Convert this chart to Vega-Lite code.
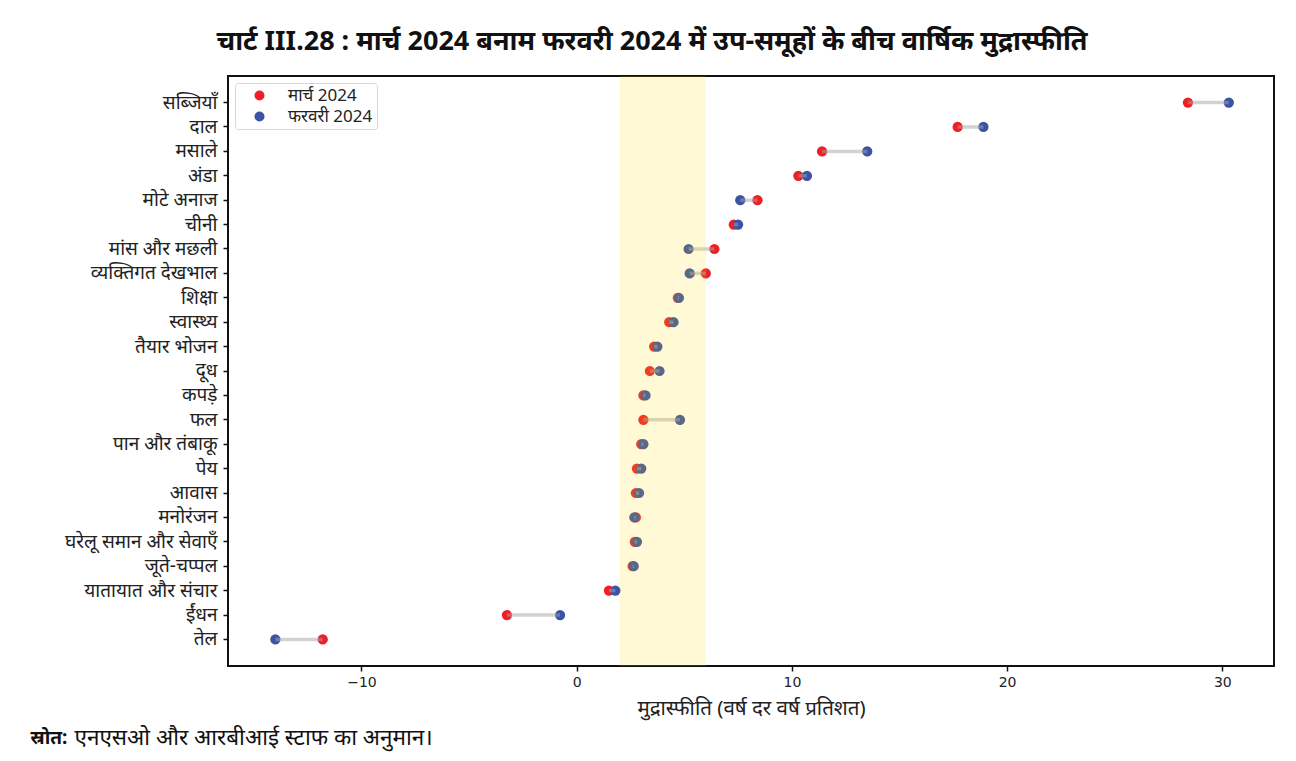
{
  "$schema": "https://vega.github.io/schema/vega-lite/v6.json",
  "autosize": {"type": "fit", "contains": "padding"},
  "width": 1296,
  "height": 761,
  "padding": {"left": 30, "right": 22, "top": 28, "bottom": 12},
  "background": "white",
  "title": {
    "text": "चार्ट III.28 : मार्च 2024 बनाम फरवरी 2024 में उप-समूहों के बीच वार्षिक मुद्रास्फीति",
    "anchor": "middle",
    "frame": "bounds",
    "font": "Noto Sans",
    "fontSize": 27,
    "fontWeight": "bold",
    "color": "#111",
    "offset": 20
  },
  "config": {
    "view": {"stroke": "#111", "strokeWidth": 2},
    "axis": {"grid": false, "domain": false, "tickColor": "#111", "tickWidth": 1.5, "tickSize": 5}
  },
  "data": {
    "values": [
      {"cat": "सब्जियाँ", "मार्च 2024": 28.4, "फरवरी 2024": 30.3},
      {"cat": "दाल", "मार्च 2024": 17.7, "फरवरी 2024": 18.9},
      {"cat": "मसाले", "मार्च 2024": 11.4, "फरवरी 2024": 13.5},
      {"cat": "अंडा", "मार्च 2024": 10.3, "फरवरी 2024": 10.7},
      {"cat": "मोटे अनाज", "मार्च 2024": 8.4, "फरवरी 2024": 7.6},
      {"cat": "चीनी", "मार्च 2024": 7.3, "फरवरी 2024": 7.5},
      {"cat": "मांस और मछली", "मार्च 2024": 6.4, "फरवरी 2024": 5.2},
      {"cat": "व्यक्तिगत देखभाल", "मार्च 2024": 6.0, "फरवरी 2024": 5.25},
      {"cat": "शिक्षा", "मार्च 2024": 4.7, "फरवरी 2024": 4.75},
      {"cat": "स्वास्थ्य", "मार्च 2024": 4.3, "फरवरी 2024": 4.5},
      {"cat": "तैयार भोजन", "मार्च 2024": 3.6, "फरवरी 2024": 3.75},
      {"cat": "दूध", "मार्च 2024": 3.4, "फरवरी 2024": 3.85},
      {"cat": "कपड़े", "मार्च 2024": 3.1, "फरवरी 2024": 3.2},
      {"cat": "फल", "मार्च 2024": 3.1, "फरवरी 2024": 4.8},
      {"cat": "पान और तंबाकू", "मार्च 2024": 3.0, "फरवरी 2024": 3.1},
      {"cat": "पेय", "मार्च 2024": 2.8, "फरवरी 2024": 3.0},
      {"cat": "आवास", "मार्च 2024": 2.75, "फरवरी 2024": 2.9},
      {"cat": "मनोरंजन", "मार्च 2024": 2.75, "फरवरी 2024": 2.68},
      {"cat": "घरेलू समान और सेवाएँ", "मार्च 2024": 2.7, "फरवरी 2024": 2.8},
      {"cat": "जूते-चप्पल", "मार्च 2024": 2.6, "फरवरी 2024": 2.65},
      {"cat": "यातायात और संचार", "मार्च 2024": 1.5, "फरवरी 2024": 1.8},
      {"cat": "ईंधन", "मार्च 2024": -3.24, "फरवरी 2024": -0.77},
      {"cat": "तेल", "मार्च 2024": -11.8, "फरवरी 2024": -14.0}
    ]
  },
  "resolve": {"axis": {"x": "independent"}},
  "layer": [
    {
      "transform": [{"fold": ["मार्च 2024", "फरवरी 2024"], "as": ["series", "value"]}],
      "mark": {"type": "circle", "size": 105, "opacity": 1},
      "encoding": {
        "x": {
          "field": "value", "type": "quantitative",
          "scale": {"domain": [-16.2, 32.4], "nice": false, "zero": false},
          "axis": {
            "orient": "bottom",
            "values": [-10, 0, 10, 20, 30],
            "title": "मुद्रास्फीति (वर्ष दर वर्ष प्रतिशत)",
            "titleFont": "Noto Sans", "titleFontSize": 20.5, "titleFontWeight": "normal", "titleColor": "#222",
            "titlePadding": 9,
            "labelFont": "DejaVu Sans", "labelFontSize": 14, "labelColor": "#222", "labelPadding": 4
          }
        },
        "y": {
          "field": "cat", "type": "nominal",
          "sort": ["सब्जियाँ", "दाल", "मसाले", "अंडा", "मोटे अनाज", "चीनी", "मांस और मछली", "व्यक्तिगत देखभाल", "शिक्षा", "स्वास्थ्य", "तैयार भोजन", "दूध", "कपड़े", "फल", "पान और तंबाकू", "पेय", "आवास", "मनोरंजन", "घरेलू समान और सेवाएँ", "जूते-चप्पल", "यातायात और संचार", "ईंधन", "तेल"],
          "scale": {"type": "band", "paddingInner": 0, "paddingOuter": 0.59},
          "axis": {"title": null, "labelFont": "Noto Sans", "labelFontSize": 19, "labelColor": "#222", "labelPadding": 6}
        },
        "color": {
          "field": "series", "type": "nominal",
          "scale": {"domain": ["मार्च 2024", "फरवरी 2024"], "range": ["#ee1f26", "#3a53a4"]},
          "legend": {
            "title": null, "orient": "top-left", "offset": 7,
            "fillColor": "white", "strokeColor": "#d6d6d6", "cornerRadius": 3, "padding": 4,
            "symbolType": "circle", "symbolSize": 100, "symbolStrokeWidth": 0, "symbolOffset": 12,
            "labelFont": "Noto Sans", "labelFontSize": 17, "labelColor": "#222", "labelOffset": 20,
            "rowPadding": 3
          }
        },
        "order": {"field": "series", "sort": "descending"}
      }
    },
    {
      "mark": {"type": "rule", "color": "#a6a6a6", "opacity": 0.5, "strokeWidth": 3.5},
      "encoding": {
        "x": {"field": "मार्च 2024", "type": "quantitative", "axis": null},
        "x2": {"field": "फरवरी 2024"},
        "y": {"field": "cat", "type": "nominal", "sort": ["सब्जियाँ", "दाल", "मसाले", "अंडा", "मोटे अनाज", "चीनी", "मांस और मछली", "व्यक्तिगत देखभाल", "शिक्षा", "स्वास्थ्य", "तैयार भोजन", "दूध", "कपड़े", "फल", "पान और तंबाकू", "पेय", "आवास", "मनोरंजन", "घरेलू समान और सेवाएँ", "जूते-चप्पल", "यातायात और संचार", "ईंधन", "तेल"]}
      }
    },
    {
      "data": {"values": [{"lo": 2, "hi": 6}]},
      "mark": {"type": "rect", "color": "gold", "opacity": 0.16},
      "encoding": {
        "x": {"field": "lo", "type": "quantitative", "axis": null},
        "x2": {"field": "hi"}
      }
    },
    {
      "mark": {"type": "point", "opacity": 0},
      "encoding": {
        "x": {
          "field": "मार्च 2024", "type": "quantitative",
          "axis": {
            "orient": "bottom",
            "labels": false, "ticks": false, "domain": false,
            "title": "स्रोत:", "titleX": -198, "titleY": 71, "titleAlign": "left", "titleAnchor": null,
            "titleBaseline": "middle", "titleFont": "Noto Sans", "titleFontSize": 19, "titleFontWeight": "bold", "titleColor": "#111"
          }
        }
      }
    },
    {
      "mark": {"type": "point", "opacity": 0},
      "encoding": {
        "x": {
          "field": "फरवरी 2024", "type": "quantitative",
          "axis": {
            "orient": "bottom",
            "labels": false, "ticks": false, "domain": false,
            "title": "एनएसओ और आरबीआई स्टाफ का अनुमान।", "titleX": -154, "titleY": 71, "titleAlign": "left", "titleAnchor": null,
            "titleBaseline": "middle", "titleFont": "Noto Sans", "titleFontSize": 22.5, "titleFontWeight": "normal", "titleColor": "#111"
          }
        }
      }
    }
  ]
}
